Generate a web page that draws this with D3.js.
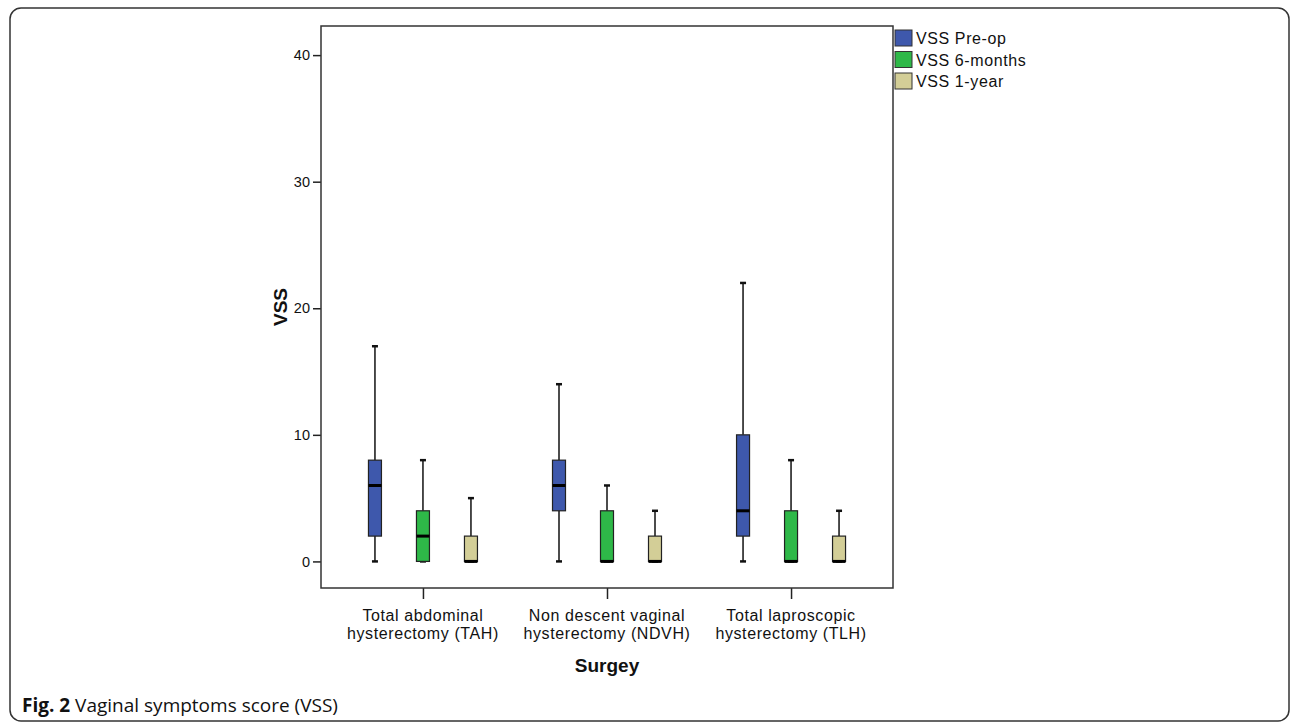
<!DOCTYPE html>
<html>
<head>
<meta charset="utf-8">
<script src="https://cdn.jsdelivr.net/npm/d3@7"></script>
<style>
  body { margin: 0; background: #fff; }
  svg text { font-family: "Liberation Sans", Arial, sans-serif; fill: #111; }
</style>
</head>
<body>
<div id="chart"></div>
<script>
// chart data
var categories = ["TAH", "NDVH", "TLH"];
var categoryLines = [
  ["Total abdominal", "hysterectomy (TAH)"],
  ["Non descent vaginal", "hysterectomy (NDVH)"],
  ["Total laproscopic", "hysterectomy (TLH)"]
];
var series = ["VSS Pre-op", "VSS 6-months", "VSS 1-year"];
var seriesColors = ["#3e58ac", "#2eb848", "#d3ce97"];
// [min, q1, median, q3, max] per category
var preOp     = [[0, 2, 6, 8, 17], [0, 4, 6, 8, 14], [0, 2, 4, 10, 22]];
var sixMonths = [[0, 0, 2, 4, 8],  [0, 0, 0, 4, 6],  [0, 0, 0, 4, 8]];
var oneYear   = [[0, 0, 0, 2, 5],  [0, 0, 0, 2, 4],  [0, 0, 0, 2, 4]];
var yTicks = [0, 10, 20, 30, 40];

var width = 1292, height = 722;
var plot = {left: 321, top: 26, right: 893, bottom: 588};

var svg = d3.select("#chart").append("svg")
  .attr("width", width)
  .attr("height", height);

// outer figure frame
svg.append("rect")
  .attr("x", 10).attr("y", 8)
  .attr("width", 1279).attr("height", 713)
  .attr("rx", 11)
  .attr("fill", "none")
  .attr("stroke", "#333")
  .attr("stroke-width", 1.5);

var y = d3.scaleLinear().domain([-2.1, 42.3]).range([plot.bottom, plot.top]);
var x = d3.scalePoint().domain(categories).range([plot.left, plot.right]).padding(0.554);
var xs = d3.scalePoint().domain(series).range([-48, 48]);

// y axis
var yAxis = svg.append("g")
  .attr("transform", "translate(" + plot.left + ",0)")
  .call(d3.axisLeft(y).tickValues(yTicks).tickSize(8).tickPadding(3));
yAxis.select(".domain").remove();
yAxis.selectAll("line").attr("stroke", "#222").attr("stroke-width", 1.5);
yAxis.selectAll("text").style("font-size", "14.5px").attr("fill", "#111");

// x axis
var xAxis = svg.append("g")
  .attr("transform", "translate(0," + plot.bottom + ")")
  .call(d3.axisBottom(x).tickSize(11).tickFormat(""));
xAxis.select(".domain").remove();
xAxis.selectAll("line").attr("stroke", "#222").attr("stroke-width", 1.5);

// category labels, two lines each
svg.append("g").selectAll("text")
  .data(categories)
  .enter().append("text")
  .attr("x", d => x(d))
  .attr("y", 621)
  .attr("text-anchor", "middle")
  .style("font-size", "16px")
  .style("letter-spacing", "0.6px")
  .each(function(d, i) {
    var t = d3.select(this);
    categoryLines[i].forEach(function(line, k) {
      t.append("tspan").attr("x", x(d)).attr("dy", k == 0 ? 0 : 18).text(line);
    });
  });

// plot frame
svg.append("rect")
  .attr("x", plot.left).attr("y", plot.top)
  .attr("width", plot.right - plot.left)
  .attr("height", plot.bottom - plot.top)
  .attr("fill", "none")
  .attr("stroke", "#333")
  .attr("stroke-width", 1.5);

// boxes
var allSeries = [preOp, sixMonths, oneYear];
var boxW = 13, capW = 6;
var boxes = [];
allSeries.forEach(function(s, si) {
  s.forEach(function(v, ci) {
    boxes.push({cat: categories[ci], ser: series[si], color: seriesColors[si],
      min: v[0], q1: v[1], med: v[2], q3: v[3], max: v[4]});
  });
});

var g = svg.append("g").selectAll("g")
  .data(boxes)
  .enter().append("g")
  .attr("transform", d => "translate(" + (x(d.cat) + xs(d.ser)) + ",0)");

// whiskers
g.append("line")
  .attr("x1", 0).attr("x2", 0)
  .attr("y1", d => y(d.max)).attr("y2", d => y(d.q3))
  .attr("stroke", "#111").attr("stroke-width", 1.5);
g.append("line")
  .attr("x1", 0).attr("x2", 0)
  .attr("y1", d => y(d.q1)).attr("y2", d => y(d.min))
  .attr("stroke", "#111").attr("stroke-width", 1.5);
g.append("line")
  .attr("x1", -capW / 2).attr("x2", capW / 2)
  .attr("y1", d => y(d.max)).attr("y2", d => y(d.max))
  .attr("stroke", "#111").attr("stroke-width", 2.5);
g.append("line")
  .attr("x1", -capW / 2).attr("x2", capW / 2)
  .attr("y1", d => y(d.min)).attr("y2", d => y(d.min))
  .attr("stroke", "#111").attr("stroke-width", 2.5);

g.append("rect")
  .attr("x", -boxW / 2)
  .attr("y", d => y(d.q3))
  .attr("width", boxW)
  .attr("height", d => y(d.q1) - y(d.q3))
  .attr("fill", d => d.color)
  .attr("stroke", "#222")
  .attr("stroke-width", 1.2);

// median
g.append("line")
  .attr("x1", -boxW / 2).attr("x2", boxW / 2)
  .attr("y1", d => y(d.med)).attr("y2", d => y(d.med))
  .attr("stroke", "#000").attr("stroke-width", 3);

// axis titles
svg.append("text")
  .attr("transform", "translate(287," + ((plot.top + plot.bottom) / 2) + ") rotate(-90)")
  .attr("text-anchor", "middle")
  .style("font-size", "19px")
  .style("font-weight", "bold")
  .text("VSS");

svg.append("text")
  .attr("x", x("NDVH"))
  .attr("y", 672)
  .attr("text-anchor", "middle")
  .style("font-size", "19px")
  .style("font-weight", "bold")
  .text("Surgey");

// legend
var legend = svg.append("g").selectAll("g")
  .data(series)
  .enter().append("g")
  .attr("transform", (d, i) => "translate(895," + (30 + i * 21.5) + ")");
legend.append("rect")
  .attr("width", 17).attr("height", 16)
  .attr("fill", (d, i) => seriesColors[i])
  .attr("stroke", "#333")
  .attr("stroke-width", 1);
legend.append("text")
  .attr("x", 21).attr("y", 14)
  .style("font-size", "16px")
  .style("letter-spacing", "0.6px")
  .text(d => d);

// caption
var cap = svg.append("text")
  .attr("x", 22).attr("y", 712)
  .style("font-family", "'Open Sans', sans-serif")
  .style("font-size", "19px");
cap.append("tspan").style("font-weight", "bold").text("Fig. 2");
cap.append("tspan").text(" Vaginal symptoms score (VSS)");
</script>
</body>
</html>
